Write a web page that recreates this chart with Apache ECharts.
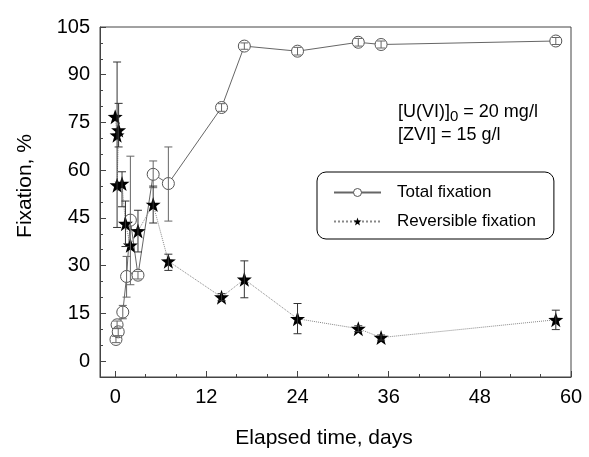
<!DOCTYPE html>
<html><head><meta charset="utf-8">
<script src="https://cdn.jsdelivr.net/npm/echarts@6/dist/echarts.min.js"></script>
<style>html,body{margin:0;padding:0;background:#fff}#c{width:589px;height:457px}</style>
</head><body><div id="c"></div>
<script>
// Total fixation (open circles)
const totalX    = [0.1, 0.25, 0.4, 1, 1.5, 2, 3, 5, 7, 14, 17, 24, 32, 35, 58];
const totalY    = [6.8, 11.4, 9.2, 15.4, 26.6, 44.3, 27.0, 58.7, 55.8, 79.7, 99.0, 97.4, 100.2, 99.5, 100.6];
const totalLow  = [5.8, 10.2, 8.0, 13.3, 20.1, 24.0, 25.8, 54.5, 44.0, 78.5, 98.0, 96.2, 99.0, 98.4, 99.5];
const totalHigh = [7.8, 12.6, 10.4, 17.5, 32.9, 64.4, 28.2, 62.9, 67.3, 80.9, 100.0, 98.6, 101.4, 100.6, 101.7];
// Reversible fixation (stars)
const revX    = [0, 0.25, 0.45, 0.25, 0.9, 1.35, 2, 3, 5, 7, 14, 17, 24, 32, 35, 58];
const revY    = [76.8, 71.0, 72.6, 55.3, 55.8, 43.2, 36.4, 40.9, 49.2, 31.4, 20.1, 25.7, 13.3, 10.2, 7.4, 13.0];
const revLow  = [null, 42.0, 67.3, null, 48.5, 36.0, null, 34.3, 43.4, 28.5, 19.0, 19.9, 8.6, 9.3, 6.6, 9.9];
const revHigh = [null, 94.0, 81.0, null, 59.5, 50.3, null, 47.4, 55.0, 33.6, 21.2, 31.5, 18.1, 11.1, 8.2, 16.0];
// Axis ticks
const xMajorTicks = [0, 12, 24, 36, 48, 60];
const xMinorTicks = [0, 4, 8, 12, 16, 20, 24, 28, 32, 36, 40, 44, 48, 52, 56, 60];
const yMajorTicks = [0, 15, 30, 45, 60, 75, 90, 105];
const yMinorTicks = [0, 5, 10, 15, 20, 25, 30, 35, 40, 45, 50, 55, 60, 65, 70, 75, 80, 85, 90, 95, 100, 105];
const seriesNames = ['Total fixation', 'Reversible fixation'];

const FONT = 'Liberation Sans, Arial, sans-serif';
const STAR = 'path://M0,-10 L2.35,-3.24 L9.51,-3.09 L3.8,1.24 L5.88,8.09 L0,4 L-5.88,8.09 L-3.8,1.24 L-9.51,-3.09 L-2.35,-3.24 Z';

function zip(a, b) { return a.map((v, i) => [v, b[i]]); }
function errData(x, lo, hi) {
  const out = [];
  x.forEach((v, i) => { if (lo[i] != null && hi[i] != null) out.push([v, lo[i], hi[i]]); });
  return out;
}
function errRender(color) {
  return function (params, api) {
    const x = api.value(0), lo = api.value(1), hi = api.value(2);
    const p1 = api.coord([x, lo]), p2 = api.coord([x, hi]);
    const w = 4;
    const style = { stroke: color, lineWidth: 1 };
    return { type: 'group', children: [
      { type: 'line', shape: { x1: p1[0], y1: p1[1], x2: p2[0], y2: p2[1] }, style: style },
      { type: 'line', shape: { x1: p1[0] - w, y1: p1[1], x2: p1[0] + w, y2: p1[1] }, style: style },
      { type: 'line', shape: { x1: p2[0] - w, y1: p2[1], x2: p2[0] + w, y2: p2[1] }, style: style }
    ]};
  };
}

const chart = echarts.init(document.getElementById('c'), null, { renderer: 'canvas' });
const axisCol = '#444';
chart.setOption({
  animation: false,
  backgroundColor: '#fff',
  grid: { left: 100, top: 27, right: 18, bottom: 80, show: true, borderColor: axisCol, borderWidth: 1, containLabel: false, outerBoundsMode: 'none' },
  xAxis: [
    { type: 'value', min: -2, max: 60, position: 'bottom',
      axisLine: { show: true, onZero: false, lineStyle: { color: axisCol } },
      axisTick: { show: true, inside: true, length: 6, customValues: xMajorTicks, lineStyle: { color: axisCol } },
      axisLabel: { customValues: xMajorTicks, fontSize: 20, color: '#000', margin: 10, fontFamily: FONT },
      splitLine: { show: false } },
    { type: 'value', min: -2, max: 60, position: 'bottom',
      axisLine: { show: false, onZero: false },
      axisTick: { show: true, inside: true, length: 3, customValues: xMinorTicks, lineStyle: { color: axisCol } },
      axisLabel: { show: false }, splitLine: { show: false } }
  ],
  yAxis: [
    { type: 'value', min: -5, max: 105, position: 'left',
      axisLine: { show: true, onZero: false, lineStyle: { color: axisCol } },
      axisTick: { show: true, inside: true, length: 6, customValues: yMajorTicks, lineStyle: { color: axisCol } },
      axisLabel: { customValues: yMajorTicks, fontSize: 20, color: '#000', margin: 10, fontFamily: FONT },
      splitLine: { show: false } },
    { type: 'value', min: -5, max: 105, position: 'left',
      axisLine: { show: false, onZero: false },
      axisTick: { show: true, inside: true, length: 3, customValues: yMinorTicks, lineStyle: { color: axisCol } },
      axisLabel: { show: false }, splitLine: { show: false } }
  ],
  legend: {
    data: seriesNames, orient: 'vertical', left: 317, top: 172,
    padding: [12, 18, 9, 16], itemGap: 12, itemWidth: 47, itemHeight: 10,
    backgroundColor: '#fff', borderColor: '#000', borderWidth: 1, borderRadius: 9,
    itemStyle: { borderWidth: 1 },
    textStyle: { fontSize: 17, color: '#000', fontFamily: FONT, padding: [0, 0, 0, 11] }
  },
  graphic: [
    { type: 'text', x: 324, y: 438, style: { text: 'Elapsed time, days', font: '21px ' + FONT, fill: '#000', textAlign: 'center', textVerticalAlign: 'middle' } },
    { type: 'text', x: 25, y: 186, rotation: Math.PI / 2, style: { text: 'Fixation, %', font: '21px ' + FONT, fill: '#000', textAlign: 'center', textVerticalAlign: 'middle' } },
    { type: 'text', x: 398, y: 101, style: { text: '{a|[U(VI)]}{s|0}{a| = 20 mg/l}', fill: '#000',
        rich: { a: { fontSize: 18, fontFamily: FONT, color: '#000' }, s: { fontSize: 15, fontFamily: FONT, padding: [8, 0, 0, 0], color: '#000' } } } },
    { type: 'text', x: 398, y: 126, style: { text: '[ZVI] = 15 g/l', font: '18px ' + FONT, fill: '#000' } }
  ],
  series: [
    { name: seriesNames[0], type: 'line', data: zip(totalX, totalY), symbol: 'circle', symbolSize: 12,
      lineStyle: { color: '#666', width: 1 }, itemStyle: { color: '#fff', borderColor: '#555', borderWidth: 1 }, z: 2 },
    { name: seriesNames[1], type: 'line', data: zip(revX, revY), symbol: STAR, symbolSize: 15,
      lineStyle: { color: '#888', width: 1, type: 'dotted' }, itemStyle: { color: '#000' }, z: 3 },
    { name: 'totalErr', type: 'custom', renderItem: errRender('#666'), data: errData(totalX, totalLow, totalHigh),
      encode: { x: 0, y: [1, 2] }, z: 4, silent: true },
    { name: 'revErr', type: 'custom', renderItem: errRender('#333'), data: errData(revX, revLow, revHigh),
      encode: { x: 0, y: [1, 2] }, z: 4, silent: true }
  ]
});
</script></body></html>
